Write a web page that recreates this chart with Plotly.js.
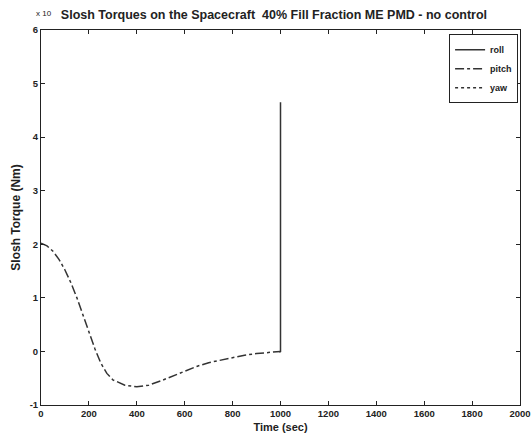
<!DOCTYPE html>
<html>
<head>
<meta charset="utf-8">
<script src="https://cdn.plot.ly/plotly-3.0.1.min.js"></script>
<style>
html,body{margin:0;padding:0;background:#fff;}
#chart{width:532px;height:436px;}
.legend .traces{opacity:1 !important;}
</style>
</head>
<body>
<div id="chart"></div>
<script>
// Time (sec) and torque values (x 10^-? Nm)
const pitchTime  = [0, 25, 50, 75, 100, 125, 150, 175, 200, 225, 250, 275, 300, 350, 400, 450, 500, 550, 600, 650, 700, 750, 800, 850, 900, 950, 1000];
const pitchValue = [2.02, 1.97, 1.87, 1.72, 1.52, 1.28, 1.00, 0.68, 0.36, 0.05, -0.22, -0.41, -0.53, -0.63, -0.66, -0.63, -0.55, -0.46, -0.36, -0.28, -0.21, -0.16, -0.11, -0.07, -0.04, -0.02, 0.0];
const rollTime   = [995, 1000, 1000];
const rollValue  = [-0.01, 0.0, 4.65];
const yawTime    = [0, 1000];
const yawValue   = [0, 0];
const xTicks = [0, 200, 400, 600, 800, 1000, 1200, 1400, 1600, 1800, 2000];
const yTicks = [-1, 0, 1, 2, 3, 4, 5, 6];

const fontFam = '"Liberation Sans", Arial, sans-serif';
const ink = '#222';

const traces = [
  {x: rollTime, y: rollValue, name: 'roll', mode: 'lines',
   line: {color: '#333', width: 1.5, dash: 'solid'}},
  {x: pitchTime, y: pitchValue, name: 'pitch', mode: 'lines', line: {color: '#333', width: 1.5, dash: 'dashdot'}},
  {x: yawTime, y: yawValue, name: 'yaw', mode: 'lines', visible: 'legendonly',
   line: {color: '#333', width: 1.5, dash: 'dot'}}
];

const axisCommon = {
  showgrid: false, zeroline: false, showline: true, linecolor: ink, linewidth: 1,
  mirror: 'ticks', ticks: 'inside', ticklen: 4, tickcolor: ink,
  tickfont: {family: fontFam, size: 9.5, color: ink, weight: 'bold'}
};

const layout = {
  width: 532, height: 436,
  margin: {l: 41, r: 12, t: 30, b: 31},
  paper_bgcolor: '#fff', plot_bgcolor: '#fff',
  title: {text: 'Slosh Torques on the Spacecraft  40% Fill Fraction ME PMD - no control',
          font: {family: fontFam, size: 12.5, color: ink, weight: 'bold'},
          x: 0.515, xanchor: 'center', y: 0.966, yanchor: 'middle', yref: 'container'},
  xaxis: Object.assign({}, axisCommon, {
    range: [0, 2000], tickmode: 'array', tickvals: xTicks, ticktext: xTicks.map(String),
    title: {text: 'Time (sec)', standoff: 4, font: {family: fontFam, size: 11, color: ink, weight: 'bold'}}
  }),
  yaxis: Object.assign({}, axisCommon, {
    range: [-1, 6], tickmode: 'array', tickvals: yTicks, ticktext: yTicks.map(String),
    title: {text: 'Slosh Torque (Nm)', standoff: 6, font: {family: fontFam, size: 12, color: ink, weight: 'bold'}}
  }),
  showlegend: true,
  legend: {x: 0.996, y: 0.989, xanchor: 'right', yanchor: 'top',
           bgcolor: '#fff', bordercolor: ink, borderwidth: 1,
           font: {family: fontFam, size: 9, color: ink, weight: 'bold'},
           tracegroupgap: 0, itemwidth: 30, itemclick: false},
  annotations: [
    {text: 'x 10', xref: 'paper', yref: 'paper', x: -0.015, y: 1.045, xanchor: 'left', yanchor: 'middle',
     showarrow: false, font: {family: fontFam, size: 8, color: ink}}
  ]
};

Plotly.newPlot('chart', traces, layout, {displayModeBar: false, staticPlot: true});
</script>
</body>
</html>
